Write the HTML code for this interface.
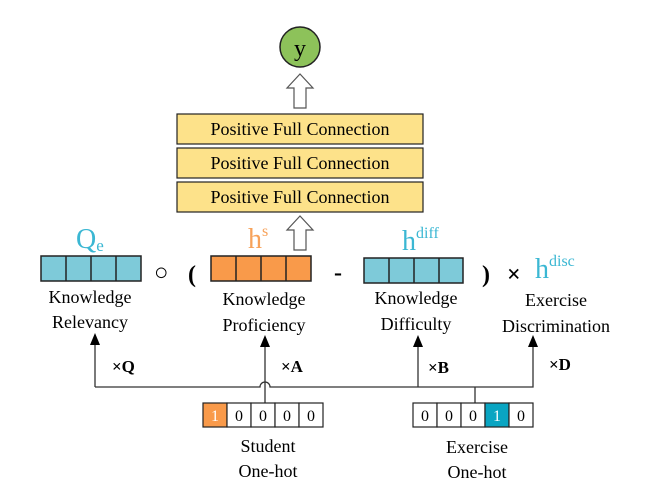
<!DOCTYPE html>
<html><head><style>
body{margin:0;background:#fff;}
svg text{font-family:"Liberation Serif",serif;}
</style></head><body>
<svg width="654" height="498" viewBox="0 0 654 498" xmlns="http://www.w3.org/2000/svg">
<circle cx="300" cy="47" r="20" fill="#8dc25a" stroke="#222" stroke-width="1.5"/>
<text x="300" y="56" font-size="24" text-anchor="middle">y</text>
<path d="M294,108 V88 H287 L300,74 L313,88 H306 V108 Z" fill="#fff" stroke="#555" stroke-width="1.2"/>
<g fill="#fde28a" stroke="#222" stroke-width="1.2">
<rect x="177" y="114" width="246" height="30"/><rect x="177" y="148" width="246" height="30"/><rect x="177" y="182" width="246" height="30"/></g>
<g font-size="18" text-anchor="middle"><text x="300" y="135">Positive Full Connection</text><text x="300" y="169">Positive Full Connection</text><text x="300" y="203">Positive Full Connection</text></g>
<path d="M294,250 V230 H287 L300,216 L313,230 H306 V250 Z" fill="#fff" stroke="#555" stroke-width="1.2"/>
<g stroke="#222" stroke-width="1.5">
<rect x="41" y="256" width="100" height="25" fill="#7ecad9"/><line x1="66" y1="256" x2="66" y2="281"/><line x1="91" y1="256" x2="91" y2="281"/><line x1="116" y1="256" x2="116" y2="281"/>
<rect x="211" y="256" width="100" height="25" fill="#f99a4a"/><line x1="236" y1="256" x2="236" y2="281"/><line x1="261" y1="256" x2="261" y2="281"/><line x1="286" y1="256" x2="286" y2="281"/>
<rect x="364" y="258" width="99" height="25" fill="#7ecad9"/><line x1="389" y1="258" x2="389" y2="283"/><line x1="414" y1="258" x2="414" y2="283"/><line x1="439" y1="258" x2="439" y2="283"/>
</g>
<text x="76" y="248" font-size="28" fill="#3bb7d3">Q<tspan font-size="17" dy="3">e</tspan></text>
<text x="248" y="248" font-size="28" fill="#f7a25a">h<tspan font-size="16" dy="-12">s</tspan></text>
<text x="402" y="250" font-size="28" fill="#3bb7d3">h<tspan font-size="16" dy="-12">diff</tspan></text>
<text x="535" y="278" font-size="28" fill="#3bb7d3">h<tspan font-size="16" dy="-12">disc</tspan></text>
<g font-family="Liberation Sans" font-weight="bold" font-size="24">
<text x="154" y="280" font-weight="normal">○</text><text x="188" y="282">(</text><text x="334" y="280">-</text><text x="482" y="282">)</text><text x="507" y="282">×</text></g>
<g font-size="18" text-anchor="middle">
<text x="90" y="303">Knowledge</text><text x="90" y="328">Relevancy</text>
<text x="264" y="305">Knowledge</text><text x="264" y="331">Proficiency</text>
<text x="416" y="304">Knowledge</text><text x="416" y="330">Difficulty</text>
<text x="556" y="306">Exercise</text><text x="556" y="332">Discrimination</text>
<text x="268" y="452">Student</text><text x="268" y="477">One-hot</text>
<text x="477" y="453">Exercise</text><text x="477" y="478">One-hot</text>
</g>
<g font-size="17" font-weight="bold"><text x="112" y="372">×Q</text><text x="281" y="372">×A</text><text x="428" y="373">×B</text><text x="549" y="370">×D</text></g>
<g fill="none" stroke="#333" stroke-width="1.3">
<path d="M95,387 V340"/>
<path d="M95,387 H260 A5,5 0 0 1 270,387 H533 V342"/>
<path d="M265,403 V342"/>
<path d="M418,387 V342"/>
<path d="M475,403 V387"/>
</g>
<g fill="#000">
<path d="M90,345 L95,333 L100,345 Z"/>
<path d="M260,347 L265,335 L270,347 Z"/>
<path d="M413,347 L418,335 L423,347 Z"/>
<path d="M528,347 L533,335 L538,347 Z"/>
</g>
<g stroke="#222" stroke-width="1.2">
<rect x="203" y="403" width="24" height="24" fill="#f99a4a"/>
<rect x="227" y="403" width="24" height="24" fill="#fff"/><rect x="251" y="403" width="24" height="24" fill="#fff"/><rect x="275" y="403" width="24" height="24" fill="#fff"/><rect x="299" y="403" width="24" height="24" fill="#fff"/>
<rect x="413" y="403" width="24" height="24" fill="#fff"/><rect x="437" y="403" width="24" height="24" fill="#fff"/><rect x="461" y="403" width="24" height="24" fill="#fff"/>
<rect x="485" y="403" width="24" height="24" fill="#0aa5c2"/><rect x="509" y="403" width="24" height="24" fill="#fff"/>
</g>
<g font-family="Liberation Sans" font-size="16" text-anchor="middle">
<text x="215" y="421" fill="#fff">1</text><text x="239" y="421">0</text><text x="263" y="421">0</text><text x="287" y="421">0</text><text x="311" y="421">0</text>
<text x="425" y="421">0</text><text x="449" y="421">0</text><text x="473" y="421">0</text><text x="497" y="421" fill="#fff">1</text><text x="521" y="421">0</text>
</g>
</svg>
</body></html>
